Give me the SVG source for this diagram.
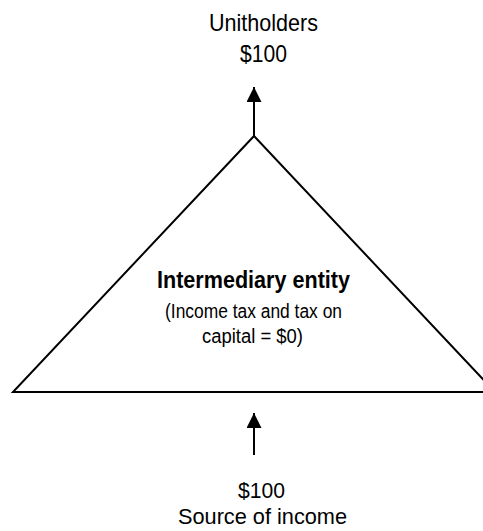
<svg xmlns="http://www.w3.org/2000/svg" width="483" height="531" viewBox="0 0 483 531">
<style>
text{font-family:"Liberation Sans",Arial,sans-serif;fill:#000;text-anchor:middle}
.lbl{font-size:24px}
.lbl2{font-size:22px}
.b{font-size:23.5px;font-weight:bold}
.s{font-size:19.5px}
.line{stroke:#000;stroke-width:2;fill:none}
</style>
<defs>
<marker id="ah" markerWidth="15" markerHeight="15" refX="15" refY="7.5" orient="auto" markerUnits="userSpaceOnUse">
<path d="M0,0 L15,7.5 L0,15 Z" fill="#000"/>
</marker>
</defs>
<rect width="483" height="531" fill="#fff"/>
<g id="unitholders">
<text class="lbl" x="263.5" y="31" textLength="109" lengthAdjust="spacingAndGlyphs">Unitholders</text>
<text class="lbl" x="263.5" y="62" textLength="47" lengthAdjust="spacingAndGlyphs">$100</text>
</g>
<g id="entity">
<path d="M254,136 L13,392 L495,392 Z" fill="#fff" stroke="#000" stroke-width="2" stroke-linejoin="miter"/>
<text class="b" x="253.5" y="288" textLength="193" lengthAdjust="spacingAndGlyphs">Intermediary entity</text>
<text class="s" x="253.5" y="318" textLength="177" lengthAdjust="spacingAndGlyphs">(Income tax and tax on</text>
<text class="s" x="252.5" y="343" textLength="101" lengthAdjust="spacingAndGlyphs">capital = $0)</text>
</g>
<g id="source">
<text class="lbl2" x="261.5" y="498" textLength="47" lengthAdjust="spacingAndGlyphs">$100</text>
<text class="lbl2" x="262.5" y="524" textLength="169" lengthAdjust="spacingAndGlyphs">Source of income</text>
</g>
<g id="connectors">
<line class="line" x1="254" y1="136" x2="254" y2="87" marker-end="url(#ah)"/>
<line class="line" x1="254" y1="455" x2="254" y2="413" marker-end="url(#ah)"/>
</g>
</svg>
